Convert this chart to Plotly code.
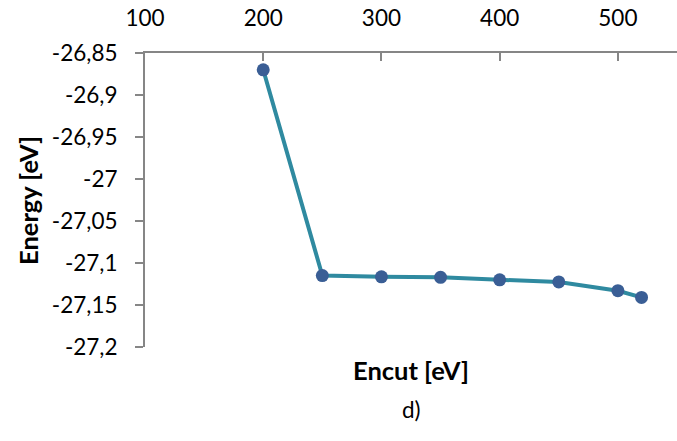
import plotly.graph_objects as go

encut = [200, 250, 300, 350, 400, 450, 500, 520]
energy = [-26.870, -27.115, -27.1165, -27.117, -27.120, -27.1225, -27.133, -27.141]

x_ticks = [100, 200, 300, 400, 500]
y_ticks = [-26.85, -26.9, -26.95, -27.0, -27.05, -27.1, -27.15, -27.2]
y_tick_labels = ["-26,85", "-26,9", "-26,95", "-27", "-27,05", "-27,1", "-27,15", "-27,2"]

FONT = "Lato, 'Open Sans', sans-serif"
AXIS_COL = "#868686"
TICK_SIZE = 22.5
TITLE_SIZE = 25.5

fig = go.Figure()
fig.add_trace(go.Scatter(
    x=encut, y=energy, mode="lines+markers",
    line=dict(color="#2f8aa0", width=4),
    marker=dict(color="#3a5e95", size=13),
    showlegend=False,
))

fig.update_layout(
    width=677, height=441,
    margin=dict(l=145, r=0, t=53, b=94),
    paper_bgcolor="white", plot_bgcolor="white",
    font=dict(family=FONT, size=TICK_SIZE, color="#000000"),
    xaxis=dict(
        range=[100, 550], side="top", automargin=False,
        tickvals=x_ticks, ticktext=[str(v) for v in x_ticks],
        ticks="inside", ticklen=8, tickwidth=2, tickcolor=AXIS_COL,
        showline=True, linecolor=AXIS_COL, linewidth=2,
        showgrid=False, zeroline=False,
        ticklabelstandoff=16,
        tickfont=dict(family=FONT, size=TICK_SIZE),
    ),
    yaxis=dict(
        range=[-27.2, -26.85], automargin=False,
        tickvals=y_ticks, ticktext=y_tick_labels,
        ticks="outside", ticklen=8, tickwidth=2, tickcolor=AXIS_COL,
        showline=True, linecolor=AXIS_COL, linewidth=2,
        showgrid=False, zeroline=False,
        ticklabelstandoff=13,
        tickfont=dict(family=FONT, size=TICK_SIZE),
    ),
    annotations=[
        dict(text="<b>Encut [eV]</b>", xref="paper", yref="paper", x=0.5, y=-0.078,
             xanchor="center", yanchor="middle", showarrow=False,
             font=dict(family=FONT, size=TITLE_SIZE)),
        dict(text="d)", xref="paper", yref="paper", x=0.5, y=-0.214,
             xanchor="center", yanchor="middle", showarrow=False,
             font=dict(family=FONT, size=TICK_SIZE)),
        dict(text="<b>Energy [eV]</b>", xref="paper", yref="paper", x=-0.22, y=0.5,
             xanchor="center", yanchor="middle", showarrow=False, textangle=-90,
             font=dict(family=FONT, size=TITLE_SIZE)),
    ],
)

fig.write_html("out.html", config={"displayModeBar": False},
               post_script="document.body.style.margin='0';")
